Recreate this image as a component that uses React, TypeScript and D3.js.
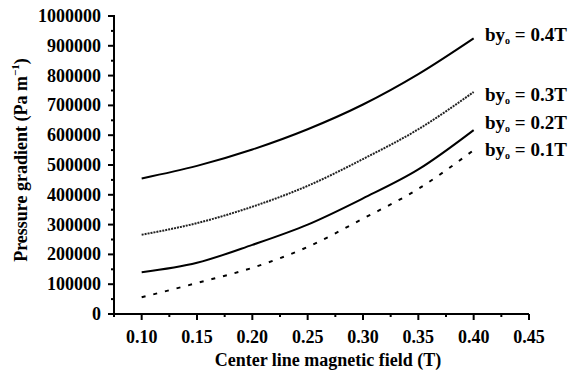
import React from "react";
import * as d3 from "d3";

const fieldT = [0.10, 0.15, 0.20, 0.25, 0.30, 0.35, 0.40];
const by04 = [455000, 497000, 552000, 620000, 703000, 805000, 925000];
const by03 = [266000, 305000, 360000, 430000, 520000, 620000, 745000];
const by02 = [140000, 172000, 232000, 300000, 388000, 485000, 617000];
const by01 = [56000, 104000, 155000, 225000, 320000, 420000, 550000];
const seriesLabels = ["0.4T", "0.3T", "0.2T", "0.1T"];
const xTicks = [0.10, 0.15, 0.20, 0.25, 0.30, 0.35, 0.40, 0.45];
const yTicks = [0, 100000, 200000, 300000, 400000, 500000, 600000, 700000, 800000, 900000, 1000000];

const W = 569, H = 379;
const FONT = "Liberation Serif";

export default function App() {
  const x = d3.scaleLinear().domain([0.075, 0.45]).range([114, 529]);
  const y = d3.scaleLinear().domain([0, 1000000]).range([314, 16]);
  const line = d3.line<number>()
    .x((_, i) => x(fieldT[i]))
    .y((d) => y(d))
    .curve(d3.curveMonotoneX);

  const series = [
    { data: by04, dash: "none", color: "#000", labelY: 41 },
    { data: by03, dash: "2,1", color: "#222", labelY: 101 },
    { data: by02, dash: "none", color: "#000", labelY: 129 },
    { data: by01, dash: "4,8", color: "#000", labelY: 156 },
  ];

  const xMinor = d3.range(0.075, 0.451, 0.05);
  const yMinor = d3.range(50000, 1000000, 100000);
  const bold = { fontFamily: FONT, fontWeight: 700, fontSize: 18 } as React.CSSProperties;
  const legend = { fontFamily: FONT, fontWeight: 700, fontSize: 19 } as React.CSSProperties;

  return (
    <svg width={W} height={H} style={{ position: "absolute", left: 0, top: 0, background: "#fff" }}>
      <rect width={W} height={H} fill="#fff" />
      <line x1={x(0.075)} x2={x(0.075)} y1={y(0) + 1} y2={y(1000000) - 1} stroke="#000" strokeWidth={2} />
      <line x1={x(0.075) - 1} x2={x(0.45)} y1={y(0)} y2={y(0)} stroke="#000" strokeWidth={2} />
      {yTicks.map((t) => (
        <g key={"yt" + t}>
          <line x1={x(0.075) - 6} x2={x(0.075)} y1={y(t)} y2={y(t)} stroke="#000" strokeWidth={2} />
          <text x={101} y={y(t) + 6} textAnchor="end" style={bold}>{t}</text>
        </g>
      ))}
      {yMinor.map((t) => (
        <line key={"ym" + t} x1={x(0.075) - 3} x2={x(0.075)} y1={y(t)} y2={y(t)} stroke="#000" strokeWidth={2} />
      ))}
      {xTicks.map((t) => (
        <g key={"xt" + t}>
          <line x1={x(t)} x2={x(t)} y1={y(0)} y2={y(0) + 6} stroke="#000" strokeWidth={2} />
          <text x={x(t)} y={343} textAnchor="middle" style={bold}>{t.toFixed(2)}</text>
        </g>
      ))}
      {xMinor.map((t) => (
        <line key={"xm" + t} x1={x(t)} x2={x(t)} y1={y(0)} y2={y(0) + 3} stroke="#000" strokeWidth={2} />
      ))}
      <text x={328} y={366} textAnchor="middle" style={bold}>Center line magnetic field (T)</text>
      <text transform={`translate(27,160) rotate(-90)`} textAnchor="middle" style={bold}>
        Pressure gradient (Pa m<tspan dy={-8} fontSize={11}>−1</tspan><tspan dy={8}>)</tspan>
      </text>
      {series.map((s, i) => (
        <path key={"s" + i} d={line(s.data) || ""} fill="none" stroke={s.color} strokeWidth={2} strokeDasharray={s.dash} />
      ))}
      {series.map((s, i) => (
        <text key={"l" + i} x={485} y={s.labelY} style={legend}>
          by<tspan dy={3} fontSize={10}>o</tspan><tspan dy={-3}> = {seriesLabels[i]}</tspan>
        </text>
      ))}
    </svg>
  );
}
